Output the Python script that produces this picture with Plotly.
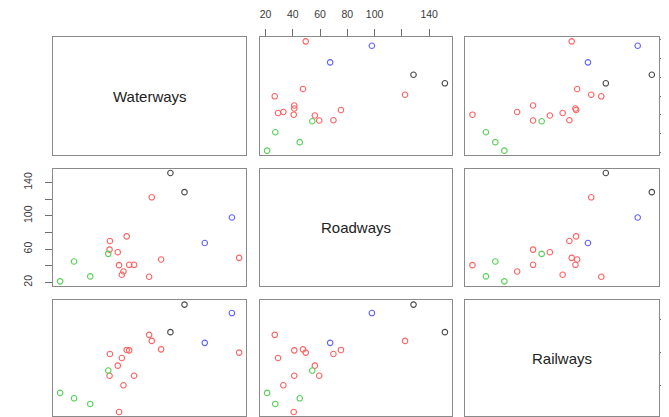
import plotly.graph_objects as go

W, H = 669, 417

variables = ["Waterways", "Roadways", "Railways"]
waterways = [395.8, 384.0, 339.8, 306.8, 283.9, 268.7, 253.5, 249.2, 224.7, 216.7, 212.7,
             207.4, 204.7, 200.2, 198.1, 184.7, 185.3, 182.6, 153.3, 126.9, 104.3]
roadways = [49.5, 98.0, 67.4, 128.5, 151.5, 47.5, 122.3, 26.8, 41.1, 41.1, 75.3,
            33.1, 29.2, 40.7, 56.2, 59.4, 69.8, 54.3, 27.2, 45.1, 21.2]
railways = [100.3, 160.1, 115.0, 172.9, 131.2, 105.2, 118.0, 127.1, 65.3, 103.7, 104.3,
            50.9, 92.1, 10.4, 80.5, 65.3, 98.2, 73.1, 22.6, 31.1, 39.3]
groups = ["red", "blue", "blue", "black", "black", "red", "red", "red", "red", "red", "red",
          "red", "red", "red", "red", "red", "red", "green", "green", "green", "green"]

waterways_ticks = [100, 150, 200, 250, 300, 350, 400]
roadways_ticks = [20, 40, 60, 80, 100, 120, 140]
railways_ticks = [50, 100, 150]
waterways_right_labels = ["100", "", "200", "", "300", "", "400"]
waterways_bottom_labels = ["100", "150", "200", "250", "300", "350", "400"]
roadways_top_labels = ["20", "40", "60", "80", "100", "", "140"]
roadways_left_labels = ["20", "", "60", "", "100", "", "140"]
railways_labels = ["50", "100", "150"]

color_map = {"red": "#ff4646", "green": "#3ac83a", "blue": "#4646ff", "black": "#2a2a2a"}

data = [waterways, roadways, railways]

col_px = [(45, 238.3), (252, 444), (457.3, 651)]
row_px = [(29, 147), (160.7, 277.7), (292.3, 408.3)]


def rng(v):
    lo, hi = min(v), max(v)
    d = (hi - lo) * 0.04
    return [lo - d, hi + d]


fig = go.Figure()
layout = dict(
    width=W, height=H, template="none",
    margin=dict(l=0, r=0, t=0, b=0),
    paper_bgcolor="white", plot_bgcolor="white",
    showlegend=False,
    font=dict(family="Liberation Sans, Arial, sans-serif", size=10.5, color="#3a3a3a"),
)

line_color = "#8a8a8a"
annotations = []
for i in range(3):
    for j in range(3):
        k = i * 3 + j + 1
        xa = "xaxis" if k == 1 else f"xaxis{k}"
        ya = "yaxis" if k == 1 else f"yaxis{k}"
        xs = "x" if k == 1 else f"x{k}"
        ys = "y" if k == 1 else f"y{k}"
        base = dict(showline=True, mirror=True, linecolor=line_color, linewidth=1.3,
                    showgrid=False, zeroline=False, automargin=False,
                    ticks="", showticklabels=False, ticklen=7, tickwidth=1,
                    tickcolor="#707070", fixedrange=True)
        xdict = dict(base)
        xdict.update(domain=[col_px[j][0] / W, col_px[j][1] / W], anchor=ys,
                     range=rng(data[j]))
        ydict = dict(base)
        ydict.update(domain=[1 - row_px[i][1] / H, 1 - row_px[i][0] / H], anchor=xs,
                     range=rng(data[i]))
        # x axes
        if i == 0 and j == 1:
            xdict.update(side="top", ticks="outside", showticklabels=True,
                         tickmode="array", tickvals=roadways_ticks,
                         ticktext=roadways_top_labels, ticklabelstandoff=7)
        if i == 2 and j == 0:
            xdict.update(side="bottom", ticks="outside", showticklabels=True,
                         tickmode="array", tickvals=waterways_ticks,
                         ticktext=waterways_bottom_labels, ticklabelstandoff=4)
        if i == 2 and j == 2:
            xdict.update(side="bottom", ticks="outside", showticklabels=True,
                         tickmode="array", tickvals=railways_ticks,
                         ticktext=railways_labels, ticklabelstandoff=4)
        # y axes
        if j == 0 and i == 1:
            ydict.update(side="left", ticks="outside", showticklabels=True,
                         tickmode="array", tickvals=roadways_ticks,
                         ticktext=roadways_left_labels, tickangle=-90,
                         ticklabelstandoff=9)
        if j == 2 and i == 0:
            ydict.update(side="right", ticks="outside", showticklabels=True,
                         tickmode="array", tickvals=waterways_ticks,
                         ticktext=waterways_right_labels, tickangle=-90,
                         ticklabelstandoff=3)
        if j == 2 and i == 2:
            ydict.update(side="right", ticks="outside", showticklabels=True,
                         tickmode="array", tickvals=railways_ticks,
                         ticktext=railways_labels, tickangle=-90,
                         ticklabelstandoff=3)
        layout[xa] = xdict
        layout[ya] = ydict

        if i == j:
            annotations.append(dict(text=variables[i], xref=f"{xs} domain", yref=f"{ys} domain",
                                    x=0.5, y=0.5, showarrow=False,
                                    font=dict(size=15, color="#222222",
                                              family="Liberation Sans, Arial, sans-serif")))
            fig.add_trace(go.Scatter(x=[None], y=[None], mode="markers", xaxis=xs, yaxis=ys,
                                     hoverinfo="skip"))
        else:
            fig.add_trace(go.Scatter(
                x=data[j], y=data[i], mode="markers", xaxis=xs, yaxis=ys,
                marker=dict(symbol="circle-open", size=5.5,
                            color=[color_map[g] for g in groups],
                            line=dict(width=1.1, color=[color_map[g] for g in groups])),
                opacity=0.85, hoverinfo="skip",
            ))

layout["annotations"] = annotations
fig.update_layout(**layout)
fig.write_html("out.html")
